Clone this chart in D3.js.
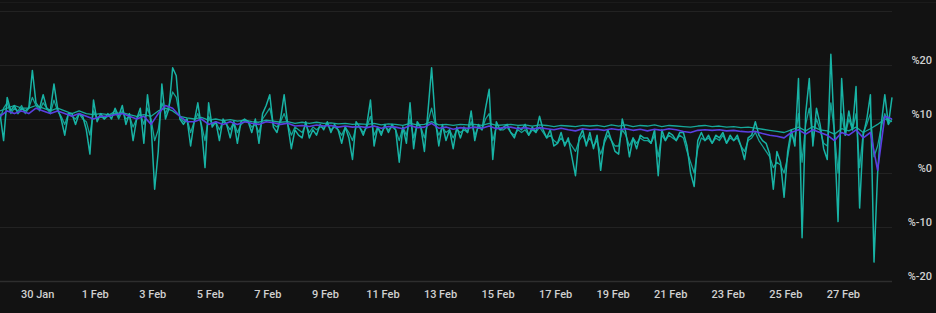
<!DOCTYPE html>
<html>
<head>
<meta charset="utf-8">
<script src="https://cdn.jsdelivr.net/npm/d3@7/dist/d3.min.js"></script>
<style>
  html, body { margin: 0; padding: 0; background: #121212; }
  svg { display: block; }
</style>
</head>
<body>
<div id="grafico"></div>
<script>
// Datos del gráfico

// inicio y fin de la serie temporal
var fechaInicio = "2024-01-28T17:00";
var fechaFin = "2024-02-28T17:00";

// etiquetas del eje X
var fechasTicks = ["2024-01-30", "2024-02-01", "2024-02-03", "2024-02-05", "2024-02-07",
    "2024-02-09", "2024-02-11", "2024-02-13", "2024-02-15", "2024-02-17", "2024-02-19",
    "2024-02-21", "2024-02-23", "2024-02-25", "2024-02-27"];

// valores del eje Y
var valoresY = [20, 10, 0, -10, -20];
var lineasGrid = [30, 20, 10, 0, -10];

// serie principal (cada 3 horas)
var serieTurquesa = [
    11, 6, 14, 11.5, 12.5, 11, 12, 11.5, 12, 19,
    13, 12, 14.5, 12, 11.5, 16.5, 12, 10, 7, 11,
    11, 9, 11, 10.5, 8, 3.5, 13.5, 9.5, 11, 10,
    11, 10, 12, 10.5, 12.5, 9, 11, 6, 10, 12,
    5.5, 14.5, 9, -3, 4, 16.5, 10, 12, 19.5, 18,
    10, 9, 10, 5, 9.5, 13, 8.5, 1, 13, 8.5,
    9.5, 6, 10, 9, 6.5, 9.5, 5.5, 9.5, 10, 9.5,
    7.5, 10, 5.5, 11, 12.5, 14.5, 8.5, 7.5, 10, 14.5,
    9, 4.5, 8, 7, 6.5, 9.5, 6.5, 8, 7, 9,
    8, 9.5, 7.5, 9, 8, 5.5, 8.5, 6.5, 2.5, 9.5,
    8.5, 7, 9, 13.5, 5, 8.5, 7, 9, 7.5, 9,
    8, 2, 8.5, 5.5, 13, 4.5, 9.5, 8.5, 4, 11.5,
    19.5, 10, 5, 9, 6, 8, 4.5, 8.5, 6.5, 8.5,
    7.5, 11.5, 6, 9, 8, 12, 15.5, 2.5, 9.5, 8,
    8.5, 9, 7.5, 6.5, 8.5, 8, 9, 7, 8.5, 7.5,
    10.5, 8, 6.5, 8, 5, 5.5, 7.5, 5, 6.5, 3,
    -0.5, 6.5, 8, 5, 7.5, 4.5, 7, 0.5, 6, 8,
    6, 4, 3.5, 10, 7.5, 3, 6.5, 4.5, 7, 6.5,
    6.5, 5.5, 8, -0.5, 8, 6, 7.5, 7, 6, 7.5,
    7.5, 5, 0, -2.5, 6, 7.5, 6, 7, 5.5, 7,
    6.5, 7.5, 5.5, 7, 6, 7, 5, 2.5, 6.5, 7,
    9.5, 7, 6, 5.5, 3.5, -3, 4, 2, -4.5, 4,
    8, 5, 17.5, -12, 11, 17.5, 5, 12, 9, 4.5,
    2.5, 22, 7, -9, 17.5, 7, 11.5, 8, 16, -6.5,
    7, 10, 14.5, -16.5, 0, 9, 14.5, 9, 14
];

// segunda serie turquesa (cada 3 horas)
var serieTurquesa2 = [
    10, 12, 13, 11, 12, 11.5, 12.5, 11, 12, 14,
    12.5, 11.5, 13, 12, 11, 13.5, 11.5, 10.5, 9, 11,
    10.5, 10, 11, 10, 9.5, 7, 11.5, 10, 10.5, 10,
    10.5, 11, 11.5, 10, 11.5, 10, 10.5, 8.5, 10, 11,
    9, 12, 10, 6, 8, 13, 11, 12.5, 15, 14,
    10.5, 9.5, 10, 7.5, 9.5, 11, 9, 6, 10.5, 9,
    9.5, 8, 9.5, 9, 8, 9.5, 7.5, 9, 9.5, 9.5,
    8.5, 9, 7.5, 10, 11, 12, 9, 8.5, 9.5, 11,
    9, 7, 8.5, 8, 7.5, 9, 7.5, 8.5, 8, 8.5,
    8.5, 9, 8, 8.5, 8, 7, 8.5, 7.5, 6, 8.5,
    8.5, 7.5, 8.5, 10.5, 7, 8.5, 7.5, 8.5, 8, 8.5,
    8, 6, 8.5, 7, 10, 6.5, 9, 8.5, 6.5, 9.5,
    12, 9, 7, 8.5, 7.5, 8, 6.5, 8, 7.5, 8,
    7.5, 9.5, 7, 8.5, 8, 10, 11, 6, 8.5, 8,
    8, 8.5, 7.5, 7, 8, 7.5, 8, 7, 8, 7.5,
    8.5, 7.5, 6.5, 7, 6, 5.5, 6.5, 5.5, 6, 5,
    4, 6, 7, 5.5, 6.5, 5, 6, 3.5, 5.5, 7,
    6, 5, 5, 8, 7, 5, 6.5, 5.5, 6.5, 6,
    6, 5.5, 7, 3, 7, 6, 7, 6.5, 6, 7,
    6.5, 4, 2, 0, 4.5, 6.5, 6, 6.5, 5.5, 6.5,
    6, 7, 5.5, 6.5, 6, 6.5, 5, 4, 6, 6.5,
    7.5, 6, 5, 4, 3, 1, 2, 1.5, 0, 3,
    7, 6, 11, 2, 9, 12, 6, 10, 8, 5.5,
    5, 13, 7.5, 0, 11, 7, 10, 8, 11, 1,
    7.5, 9, 11, 3, 5, 8.5, 11, 9, 10
];

// tercera serie turquesa, más suave (cada 6 horas)
var serieTurquesa3 = [
    11.5, 12, 12.5, 12, 12, 12.5, 12, 11.5, 12, 11.5,
    11, 11.5, 11, 10.8, 11, 10.8, 11, 11.2, 10.8, 10.5,
    10.8, 10.5, 11.5, 12, 11.5, 10.5, 10.2, 10, 10.3, 9.8,
    10, 9.7, 9.9, 9.6, 9.8, 9.5, 9.4, 9.8, 9.6, 9.4,
    9.5, 9.2, 9.4, 9.2, 9.4, 9.2, 9.3, 9.1, 9.2, 9,
    9.1, 9, 9.2, 8.9, 9.1, 9, 8.8, 9.2, 8.9, 9,
    9.5, 8.9, 9, 8.8, 9, 8.9, 9, 8.8, 9.2, 8.8,
    8.9, 9, 8.8, 8.9, 8.7, 8.9, 8.8, 8.6, 8.8, 8.7,
    8.6, 8.8, 8.7, 8.8, 8.6, 8.9, 8.7, 8.9, 8.6, 8.8,
    8.7, 8.9, 8.6, 8.8, 8.7, 8.6, 8.5, 8.7, 8.8, 8.6,
    8.7, 8.5, 8.6, 8.4, 8.5, 8.3, 8.1, 7.9, 7.7, 7.5,
    8, 8.5, 7.8, 8.6, 8, 7.8, 7.2, 8.2, 7.8, 8.5,
    7.5, 8.2, 9, 10, 9.5
];

// serie morada (cada 6 horas)
var serieMorada = [
    10.5, 11.5, 11, 11.5, 11, 12, 11.5, 11, 11.5, 11,
    10.5, 11, 10.5, 10, 10.5, 10.5, 10.8, 11, 10.5, 10,
    10.5, 9, 11, 12.5, 12, 10.5, 9.5, 9.5, 10, 9,
    9.5, 9, 9.5, 9, 9.5, 9.2, 9, 9.5, 9.3, 9,
    9.2, 8.7, 8.8, 8.6, 8.9, 8.7, 8.8, 8.5, 8.7, 8.5,
    8.6, 8.4, 8.7, 8.3, 8.6, 8.5, 8.2, 8.8, 8.4, 8.5,
    9.2, 8.3, 8.5, 8.1, 8.4, 8.3, 8.5, 8.3, 8.7, 8.2,
    8.4, 8.5, 8.2, 8.4, 8.1, 8.4, 8.2, 8, 8.3, 8,
    7.8, 8.2, 8, 8.1, 7.9, 8.2, 8, 8.2, 7.9, 8.1,
    7.8, 8.1, 7.9, 8.2, 8, 7.7, 7.5, 7.9, 8, 7.9,
    8, 7.8, 7.9, 7.7, 7.6, 7.7, 7.3, 7, 6.8, 6.5,
    7.5, 8, 7.2, 8, 7.5, 7, 6, 7.5, 7, 8,
    6.5, 7.5, 0.5, 10.5, 10
];

var ancho = 936, alto = 313;
var parseFecha = d3.utcParse("%Y-%m-%dT%H:%M");
var parseDia = d3.utcParse("%Y-%m-%d");
var t0 = parseFecha(fechaInicio);
var t1 = parseFecha(fechaFin);

// FUNCIÓN serieConFechas ---> reparte los valores a lo largo del periodo
function serieConFechas(valores) {
    var paso = (t1 - t0) / (valores.length - 1);
    return valores.map(function (v, i) {
        return { fecha: new Date(t0.getTime() + i * paso), valor: v };
    });
}

var x = d3.scaleUtc().domain([t0, t1]).range([0, 892]);
var y = d3.scaleLinear().domain([-20, 30]).range([281, 11]);

var svg = d3.select("#grafico")
    .append("svg")
    .attr("width", ancho)
    .attr("height", alto);

svg.append("rect")
    .attr("width", ancho)
    .attr("height", alto)
    .attr("fill", "#121212");

// línea fina arriba del todo
svg.append("line")
    .attr("x1", 0).attr("x2", ancho)
    .attr("y1", 2.5).attr("y2", 2.5)
    .attr("stroke", "#1b1b1b");

// líneas de la rejilla
svg.selectAll(".grid")
    .data(lineasGrid)
    .enter()
    .append("line")
    .attr("class", "grid")
    .attr("x1", 0)
    .attr("x2", 892)
    .attr("y1", d => Math.round(y(d)) + 0.5)
    .attr("y2", d => Math.round(y(d)) + 0.5)
    .attr("stroke", "#222222");

// línea del eje X
svg.append("line")
    .attr("x1", 0).attr("x2", 892)
    .attr("y1", 281.5).attr("y2", 281.5)
    .attr("stroke", "#2e2e2e")
    .attr("stroke-width", 1.5);

// etiquetas del eje Y (a la derecha)
svg.selectAll(".etiquetaY")
    .data(valoresY)
    .enter()
    .append("text")
    .attr("class", "etiquetaY")
    .attr("x", 932)
    .attr("y", d => y(d) - 1)
    .attr("text-anchor", "end")
    .attr("fill", "#d0d0d0")
    .style("font-family", "Roboto, sans-serif")
    .style("font-size", "11px")
    .style("font-weight", "500")
    .text(d => "%" + d);

// eje X
var ejeX = d3.axisBottom(x)
    .tickValues(fechasTicks.map(parseDia))
    .tickFormat(d3.utcFormat("%-d %b"))
    .tickSize(0)
    .tickPadding(8);

var gEje = svg.append("g")
    .attr("transform", "translate(0,282)")
    .call(ejeX);
gEje.select(".domain").remove();
gEje.selectAll("text")
    .attr("fill", "#d0d0d0")
    .style("font-family", "Roboto, sans-serif")
    .style("font-size", "11px")
    .style("font-weight", "500");

var linea = d3.line()
    .x(d => x(d.fecha))
    .y(d => y(d.valor));

// dibuja cada serie
var series = [
    { datos: serieTurquesa2, color: "#14a294", grosor: 1.3 },
    { datos: serieTurquesa3, color: "#16a89a", grosor: 1.3 },
    { datos: serieTurquesa, color: "#18b3a5", grosor: 1.5 },
    { datos: serieMorada, color: "#5a3fe0", grosor: 1.6 }
];

series.forEach(function (s) {
    svg.append("path")
        .datum(serieConFechas(s.datos))
        .attr("fill", "none")
        .attr("stroke", s.color)
        .attr("stroke-width", s.grosor)
        .attr("stroke-linejoin", "round")
        .attr("d", linea);
});
</script>
</body>
</html>
